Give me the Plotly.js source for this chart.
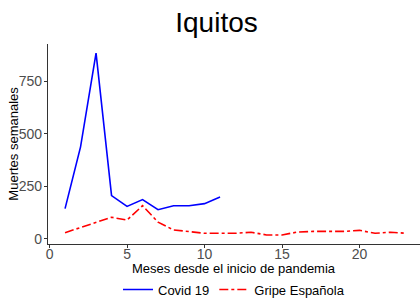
<!DOCTYPE html>
<html><head><meta charset="utf-8">
<script src="https://cdn.plot.ly/plotly-3.0.1.min.js"></script>
<style>html,body{margin:0;padding:0;background:#fff}#chart{width:420px;height:299px}</style>
</head><body><div id="chart"></div>
<script>
const covidMonths = [1,2,3,4,5,6,7,8,9,10,11];
const covidDeaths = [144,438,884,206,155,187,139,158,158,168,199];
const gripeMonths = [1,2,3,4,5,6,7,8,9,10,11,12,13,14,15,16,17,18,19,20,21,22,23];
const gripeDeaths = [30,54,77,103,90,158,80,43,35,27,27,27,32,19,19,33,36,35,36,41,27,32,27];
const xTicks = [0,5,10,15,20];
const yTicks = [0,250,500,750];

const traces = [
  {x: covidMonths, y: covidDeaths, name: 'Covid 19', mode: 'lines',
   line: {color: '#0000FF', width: 1.6}},
  {x: gripeMonths, y: gripeDeaths, name: 'Gripe Española', mode: 'lines',
   line: {color: '#FF0000', width: 1.6, dash: 'dashdot'}}
];
const layout = {
  width: 420, height: 299,
  margin: {l: 48, r: 0, t: 44, b: 55, autoexpand: false},
  paper_bgcolor: '#fff', plot_bgcolor: '#fff',
  font: {family: 'Liberation Sans, Arial, sans-serif', color: '#000'},
  title: {text: 'Iquitos', font: {size: 28, color: '#000'}, x: 0.5155, xref: 'container', xanchor: 'center',
    y: 0.927, yref: 'container', yanchor: 'middle'},
  showlegend: true,
  legend: {orientation: 'h', x: 0.5, xanchor: 'center', xref: 'paper', y: -0.228, yref: 'paper', yanchor: 'middle',
    font: {size: 13}, itemwidth: 30, tracegroupgap: 0},
  xaxis: {range: [-0.1, 23.9], tickvals: xTicks, ticktext: xTicks.map(String), showgrid: false, zeroline: false,
    showline: true, linecolor: '#333', linewidth: 1.1, ticks: 'outside', ticklen: 3, tickcolor: '#333',
    tickfont: {size: 14, color: '#4d4d4d'}, automargin: false, ticklabelstandoff: -6},
  yaxis: {range: [-24, 927], tickvals: yTicks, ticktext: yTicks.map(String), showgrid: false, zeroline: false,
    showline: true, linecolor: '#333', linewidth: 1.1, ticks: 'outside', ticklen: 3, tickcolor: '#333',
    tickfont: {size: 14, color: '#4d4d4d'}, automargin: false, ticklabelstandoff: -1},
  annotations: [
    {text: 'Meses desde el inicio de pandemia', xref: 'paper', yref: 'paper', x: 0.5, y: -0.12,
     xanchor: 'center', yanchor: 'middle', showarrow: false, font: {size: 13, color: '#000'}},
    {text: 'Muertes semanales', xref: 'paper', yref: 'paper', x: -0.095, y: 0.5, textangle: -90,
     xanchor: 'center', yanchor: 'middle', showarrow: false, font: {size: 13, color: '#000'}}
  ]
};
Plotly.newPlot('chart', traces, layout, {displayModeBar: false, staticPlot: true});
</script></body></html>
